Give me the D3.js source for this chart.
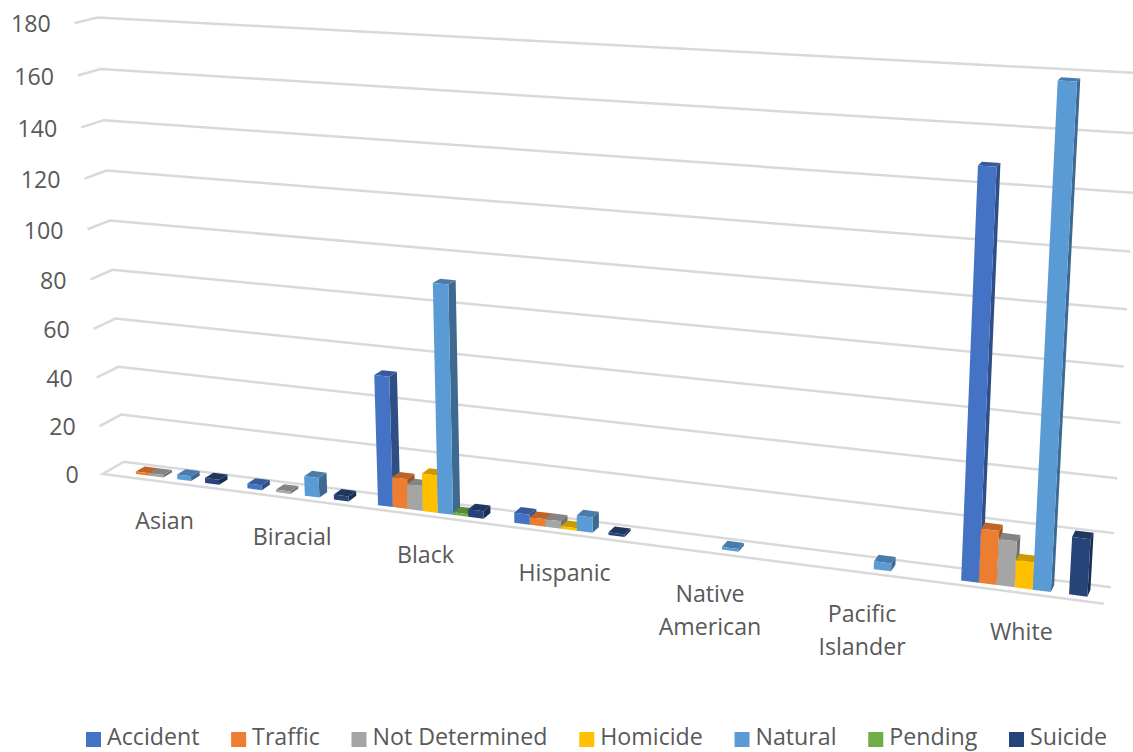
<!DOCTYPE html>
<html>
<head>
<meta charset="utf-8">
<script src="https://cdnjs.cloudflare.com/ajax/libs/d3/7.8.5/d3.min.js"></script>
<style>
html, body { margin: 0; padding: 0; background: #fff; }
svg { display: block; }
text { font-family: "Open Sans", sans-serif; font-size: 23.2px; fill: #595959; }
</style>
</head>
<body>
<script>
var categories = ["Asian", "Biracial", "Black", "Hispanic", "Native American", "Pacific Islander", "White"];
var seriesNames = ["Accident", "Traffic", "Not Determined", "Homicide", "Natural", "Pending", "Suicide"];
var seriesColors = ["#4472C4", "#ED7D31", "#A5A5A5", "#FFC000", "#5B9BD5", "#70AD47", "#264478"];

// one value per category, null where there is no bar
var accident      = [null, 2, 52, 4, null, null, 148];
var traffic       = [1, null, 12, 3, null, null, 20];
var notDetermined = [1, 1, 10, 3, null, null, 17];
var homicide      = [null, null, 15, 1, null, null, 10];
var natural       = [2, 8, 90, 6, 1, 3, 178];
var pending       = [null, null, 1, null, null, null, null];
var suicide       = [2, 2, 3, 1, null, null, 21];
var seriesValues = [accident, traffic, notDetermined, homicide, natural, pending, suicide];

var width = 1133, height = 752;

var svg = d3.select("body").append("svg")
    .attr("width", width)
    .attr("height", height);

// the chart box as seen in the picture: [u, v, w, screen x, screen y]
// u along categories, v up the value axis, w 0 = back wall, 1 = front edge
var boxCorners = [
  [0, 0, 0, 124, 461.7], [0, 0.5, 0, 111, 245], [0, 1, 0, 97.7, 17.3],
  [1, 0, 0, 1110.7, 587.7], [1, 0.5, 0, 1125, 338], [1, 1, 0, 1141, 73.2],
  [0, 0, 1, 102.7, 474], [0, 0.5, 1, 89, 254.3], [0, 1, 1, 74.7, 23.3],
  [1, 0, 1, 1104, 603.3]
];

// least squares fit of the camera (3d to 2d projective map)
function fitCamera(pts) {
  var n = 11, A = d3.range(n).map(function() { return d3.range(n + 1).map(function() { return 0; }); });
  function add(row, rhs) {
    for (var i = 0; i < n; i++) {
      for (var j = 0; j < n; j++) A[i][j] += row[i] * row[j];
      A[i][n] += row[i] * rhs;
    }
  }
  pts.forEach(function(p) {
    var x = p[3] / 1000, y = p[4] / 1000;
    add([p[0], p[1], p[2], 1, 0, 0, 0, 0, -x * p[0], -x * p[1], -x * p[2]], x);
    add([0, 0, 0, 0, p[0], p[1], p[2], 1, -y * p[0], -y * p[1], -y * p[2]], y);
  });
  for (var c = 0; c < n; c++) {
    var best = c;
    for (var r = c + 1; r < n; r++) if (Math.abs(A[r][c]) > Math.abs(A[best][c])) best = r;
    var t = A[c]; A[c] = A[best]; A[best] = t;
    for (r = 0; r < n; r++) {
      if (r == c) continue;
      var f = A[r][c] / A[c][c];
      for (var k = c; k <= n; k++) A[r][k] -= f * A[c][k];
    }
  }
  return A.map(function(row, i) { return row[n] / row[i]; });
}

var cam = fitCamera(boxCorners);

function project(u, v, w) {
  var d = cam[8] * u + cam[9] * v + cam[10] * w + 1;
  return [
    1000 * (cam[0] * u + cam[1] * v + cam[2] * w + cam[3]) / d,
    1000 * (cam[4] * u + cam[5] * v + cam[6] * w + cam[7]) / d
  ];
}

var uScale = d3.scaleBand().domain(categories).range([0, 1]);
// bars touch, one bar of empty space each side of the cluster
var barScale = d3.scaleBand().domain(seriesNames).range([0, uScale.bandwidth()]).paddingInner(0).paddingOuter(1);
var yScale = d3.scaleLinear().domain([0, 180]).range([0, 1]);
var barBack = 0.3, barFront = 0.72;

var line = d3.line();

// gridlines
var grid = svg.append("g");
yScale.ticks(9).forEach(function(t) {
  var v = yScale(t);
  var pts = [project(0, v, 1), project(0, v, 0), project(1, v, 0)];
  if (t == 0) pts = [project(1, 0, 0), project(0, 0, 0), project(0, 0, 1), project(1, 0, 1)];
  grid.append("path")
      .attr("d", line(pts))
      .attr("fill", "none")
      .attr("stroke", "#d9d9d9")
      .attr("stroke-width", 2.5);
  var end = project(0, v, 1);
  svg.append("text")
      .attr("x", end[0] - 24)
      .attr("y", end[1] + 1)
      .attr("dy", "0.36em")
      .attr("text-anchor", "end")
      .text(t);
});

// bars, left to right so each front face covers the side of the bar before it
var bars = [];
categories.forEach(function(cat, ci) {
  seriesNames.forEach(function(name, si) {
    var val = seriesValues[si][ci];
    if (val != null) bars.push({cat: cat, name: name, color: seriesColors[si], value: val});
  });
});

var barGroups = svg.selectAll("g.bar")
    .data(bars)
    .enter().append("g")
    .attr("class", "bar");

function face(d, pick) {
  var u0 = uScale(d.cat) + barScale(d.name), u1 = u0 + barScale.bandwidth(), v = yScale(d.value);
  return line(pick(u0, u1, v).map(function(p) { return project(p[0], p[1], p[2]); })) + "Z";
}
function shade(c, k) {
  var o = d3.rgb(c);
  return d3.rgb(o.r * k, o.g * k, o.b * k).formatHex();
}

barGroups.append("path")
    .attr("fill", function(d) { return shade(d.color, 0.68); })
    .attr("d", function(d) {
      return face(d, function(u0, u1, v) {
        return [[u1, 0, barFront], [u1, 0, barBack], [u1, v, barBack], [u1, v, barFront]];
      });
    });
barGroups.append("path")
    .attr("fill", function(d) { return shade(d.color, 0.8); })
    .attr("d", function(d) {
      return face(d, function(u0, u1, v) {
        return [[u0, v, barFront], [u1, v, barFront], [u1, v, barBack], [u0, v, barBack]];
      });
    });
barGroups.append("path")
    .attr("fill", function(d) { return d.color; })
    .attr("d", function(d) {
      return face(d, function(u0, u1, v) {
        return [[u0, 0, barFront], [u1, 0, barFront], [u1, v, barFront], [u0, v, barFront]];
      });
    });

// category labels, wrapped the way the picture wraps them
categories.forEach(function(cat) {
  var p = project(uScale(cat) + uScale.bandwidth() / 2, 0, 1);
  var words = cat.split(" ");
  var label = svg.append("text")
      .attr("text-anchor", "middle")
      .attr("y", p[1] + (words.length > 1 ? 41 : 38.5));
  words.forEach(function(word, i) {
    label.append("tspan")
        .attr("x", p[0])
        .attr("dy", i == 0 ? "0.36em" : "33px")
        .text(word);
  });
});

// legend
var legendX = 86;
seriesNames.forEach(function(name, i) {
  svg.append("rect")
      .attr("x", legendX)
      .attr("y", 732)
      .attr("width", 15)
      .attr("height", 15)
      .attr("fill", seriesColors[i]);
  var label = svg.append("text")
      .attr("x", legendX + 21)
      .attr("y", 745)
      .text(name);
  legendX += 21 + label.node().getComputedTextLength() + 31.7;
});
</script>
</body>
</html>
